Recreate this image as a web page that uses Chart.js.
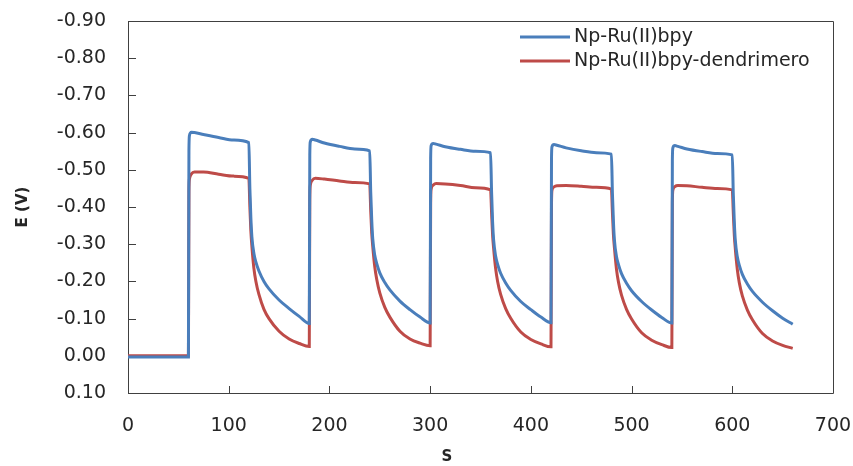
<!DOCTYPE html>
<html><head><meta charset="utf-8">
<script src="https://cdn.jsdelivr.net/npm/chart.js@4.4.1/dist/chart.umd.min.js"></script>
<style>html,body{margin:0;padding:0;background:#fff}canvas{display:block}</style>
</head><body>
<canvas id="c" width="853" height="466"></canvas>
<script>
// time in seconds (shared by both series)
const seconds = [
  0, 30, 60,
  60.5, 61, 63, 66, 75, 90, 105, 120,
  121, 122, 123, 125, 127, 130, 135, 140, 150, 160, 170, 180,
  180.5, 181, 183, 186, 195, 210, 225, 240,
  241, 242, 243, 245, 247, 250, 255, 260, 270, 280, 290, 300,
  300.5, 301, 303, 306, 315, 330, 345, 360,
  361, 362, 363, 365, 367, 370, 375, 380, 390, 400, 410, 420,
  420.5, 421, 423, 426, 435, 450, 465, 480,
  481, 482, 483, 485, 487, 490, 495, 500, 510, 520, 530, 540,
  540.5, 541, 543, 546, 555, 570, 585, 600,
  601, 602, 603, 605, 607, 610, 615, 620, 630, 640, 650, 660
];
// E (V) – Np-Ru(II)bpy
const npRuBpy = [
  0.003, 0.003, 0.003,
  -0.55, -0.592, -0.601, -0.600, -0.595, -0.587, -0.580, -0.573,
  -0.45, -0.37, -0.32, -0.275, -0.252, -0.228, -0.200, -0.180, -0.150, -0.127, -0.106, -0.087,
  -0.54, -0.575, -0.582, -0.580, -0.572, -0.563, -0.556, -0.551,
  -0.44, -0.365, -0.315, -0.270, -0.248, -0.223, -0.197, -0.177, -0.147, -0.124, -0.104, -0.088,
  -0.53, -0.565, -0.571, -0.569, -0.562, -0.555, -0.550, -0.546,
  -0.44, -0.36, -0.312, -0.268, -0.246, -0.222, -0.196, -0.176, -0.146, -0.124, -0.104, -0.089,
  -0.53, -0.562, -0.568, -0.566, -0.559, -0.551, -0.546, -0.542,
  -0.435, -0.36, -0.31, -0.267, -0.245, -0.221, -0.195, -0.175, -0.146, -0.123, -0.103, -0.088,
  -0.525, -0.559, -0.565, -0.563, -0.556, -0.549, -0.544, -0.540,
  -0.435, -0.36, -0.31, -0.266, -0.243, -0.219, -0.193, -0.173, -0.144, -0.121, -0.101, -0.085
];
// E (V) – Np-Ru(II)bpy-dendrimero
const npRuBpyDendrimero = [
  0.000, 0.000, 0.000,
  -0.44, -0.475, -0.489, -0.494, -0.494, -0.488, -0.483, -0.477,
  -0.40, -0.335, -0.295, -0.235, -0.200, -0.165, -0.125, -0.100, -0.066, -0.045, -0.033, -0.025,
  -0.42, -0.458, -0.472, -0.477, -0.475, -0.470, -0.466, -0.462,
  -0.39, -0.33, -0.295, -0.240, -0.205, -0.169, -0.130, -0.104, -0.066, -0.045, -0.034, -0.027,
  -0.41, -0.448, -0.459, -0.463, -0.462, -0.458, -0.452, -0.446,
  -0.385, -0.325, -0.29, -0.235, -0.200, -0.165, -0.127, -0.101, -0.064, -0.044, -0.032, -0.024,
  -0.41, -0.445, -0.454, -0.457, -0.458, -0.456, -0.453, -0.448,
  -0.385, -0.325, -0.29, -0.233, -0.198, -0.163, -0.125, -0.099, -0.062, -0.042, -0.030, -0.022,
  -0.41, -0.445, -0.455, -0.458, -0.457, -0.453, -0.450, -0.446,
  -0.385, -0.325, -0.288, -0.232, -0.196, -0.161, -0.123, -0.097, -0.060, -0.040, -0.028, -0.020
];
const seriesLabels = ['Np-Ru(II)bpy', 'Np-Ru(II)bpy-dendrimero'];
const seriesColors = ['#4A7EBB', '#BE4B48'];
const xAxisTitle = 'S';
const yAxisTitle = 'E (V)';

const toPoints = (ys) => seconds.map((t, i) => ({x: t, y: ys[i]}));
const FONT = 'DejaVu Sans';
const TEXT = '#262626';
const FRAME = '#404040';

const framePlugin = {
  id: 'frame',
  beforeDatasetsDraw(chart) {
    const {ctx, chartArea: a, scales: {x, y}} = chart;
    ctx.save();
    ctx.strokeStyle = FRAME;
    ctx.lineWidth = 1;
    ctx.beginPath();
    ctx.rect(Math.round(a.left) + 0.5, Math.round(a.top) + 0.5, Math.round(a.right - a.left), Math.round(a.bottom - a.top));
    ctx.stroke();
    ctx.beginPath();
    y.ticks.forEach(t => {
      const p = Math.round(y.getPixelForValue(t.value)) + 0.5;
      ctx.moveTo(a.left, p); ctx.lineTo(a.left + 8, p);
    });
    x.ticks.forEach(t => {
      const p = Math.round(x.getPixelForValue(t.value)) + 0.5;
      ctx.moveTo(p, a.bottom); ctx.lineTo(p, a.bottom - 7);
    });
    ctx.stroke();
    ctx.restore();
  },
  afterDraw(chart) {
    const {ctx} = chart;
    ctx.save();
    // legend
    ctx.font = '19px "' + FONT + '"';
    ctx.textBaseline = 'middle';
    ctx.textAlign = 'left';
    chart.data.datasets.forEach((ds, i) => {
      const yy = 37 + i * 24;
      ctx.strokeStyle = ds.borderColor;
      ctx.lineWidth = 3;
      ctx.beginPath();
      ctx.moveTo(520, yy); ctx.lineTo(570, yy);
      ctx.stroke();
      ctx.fillStyle = TEXT;
      ctx.fillText(ds.label, 574, yy);
    });
    // x axis title
    ctx.font = 'bold 15px "' + FONT + '"';
    ctx.textAlign = 'center';
    ctx.fillText(xAxisTitle, 447, 457);
    ctx.restore();
  }
};

new Chart(document.getElementById('c'), {
  type: 'line',
  data: {
    datasets: [
      {label: seriesLabels[0], data: toPoints(npRuBpy), borderColor: seriesColors[0], borderWidth: 3, pointRadius: 0, cubicInterpolationMode: 'monotone', fill: false},
      {label: seriesLabels[1], data: toPoints(npRuBpyDendrimero), borderColor: seriesColors[1], borderWidth: 3, pointRadius: 0, cubicInterpolationMode: 'monotone', fill: false}
    ]
  },
  options: {
    responsive: false,
    animation: false,
    devicePixelRatio: 1,
    layout: {padding: {top: 21, right: 20, left: 0, bottom: 0}},
    plugins: {legend: {display: false}, tooltip: {enabled: false}},
    scales: {
      x: {
        type: 'linear', min: 0, max: 700,
        ticks: {stepSize: 100, padding: 22, color: TEXT, font: {family: FONT, size: 19}, maxRotation: 0},
        grid: {display: false, drawTicks: false},
        border: {display: false},
        afterFit: s => { s.height = 73; s.paddingLeft = 0; s.paddingRight = 0; }
      },
      y: {
        type: 'linear', min: -0.9, max: 0.1, reverse: true,
        ticks: {stepSize: 0.1, padding: 22, color: TEXT, font: {family: FONT, size: 19},
          callback: v => (Math.abs(v) < 1e-9 ? 0 : v).toFixed(2)},
        grid: {display: false, drawTicks: false},
        border: {display: false},
        title: {display: true, text: yAxisTitle, color: TEXT, font: {family: FONT, size: 15, weight: 'bold'}, padding: {top: 14, bottom: 0}},
        afterFit: s => { s.width = 128; s.paddingTop = 0; s.paddingBottom = 0; }
      }
    }
  },
  plugins: [framePlugin]
});
</script>
</body></html>
